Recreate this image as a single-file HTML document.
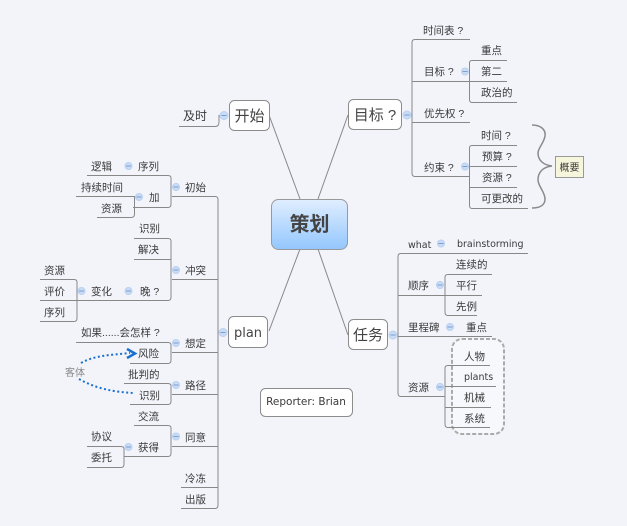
<!DOCTYPE html>
<html><head><meta charset="utf-8"><style>
html,body{margin:0;padding:0;background:#f2f4fa;width:627px;height:526px;overflow:hidden}
svg{display:block}
text{font-family:"Liberation Sans","Noto Sans CJK SC",sans-serif;font-size:10.5px;fill:#3a3a3a}
.l{font-family:"DejaVu Sans",sans-serif;font-size:9.5px}
.t{font-size:15px;fill:#444;text-anchor:middle}
.b{fill:#fff;stroke:#8c8c8c;stroke-width:1}
.p{fill:none;stroke:#888;stroke-width:1}
.c{fill:#c9dcf6;stroke:#b9d0f0;stroke-width:1}
.m{fill:none;stroke:#7f9ccc;stroke-width:1}
</style></head><body>
<svg width="627" height="526" viewBox="0 0 627 526" xmlns="http://www.w3.org/2000/svg">
<defs><linearGradient id="g" x1="0" y1="0" x2="0" y2="1"><stop offset="0" stop-color="#e0eeff"/><stop offset="1" stop-color="#93c6fd"/></linearGradient></defs>
<rect x="452" y="339" width="52" height="95" rx="10" fill="#f7f8fc" stroke="#aaa" stroke-width="2" stroke-dasharray="4 2"/>
<g class="p">
<path d="M269 115L300 199M348 115L318 199M300 249L269 331M318 249L348 335"/>
<path d="M470 39.5H415Q412 39.5 412 42.500V173Q412 176.500 415 176.500H470M412 81.500H470M412 122.500H470"/>
<path d="M507 60.500H472Q469.500 60.500 469.500 63V99Q469.500 102.500 472 102.500H517M469.500 81.500H507"/>
<path d="M517 145.500H472Q469.500 145.500 469.500 148V205Q469.500 208.500 472 208.500H528M469.500 166.500H517M469.500 187.500H517"/>
<path d="M528 253.500H401Q398 253.500 398 256.500V393Q398 396.500 401 396.500H445M398 295.500H482M398 336.500H492"/>
<path d="M492 274.500H448Q445 274.500 445 277V312Q445 315.500 448 315.500H477M445 295.500H482"/>
<path d="M490 365.500H448Q445 365.500 445 368V424Q445 427.500 448 427.500H490M445 386.500H496M445 407.500H491"/>
<path d="M179 126.500H215Q219 126.500 219 122V115"/>
<path d="M172 196.500H215Q218 196.500 218 199.500V505Q218 508.500 215 508.500H181M172 279.500H218M172 352.500H218M172 394.500H218M172 446.500H218M181 487.500H218"/>
<path d="M87 175.500H168Q171 175.500 171 178V204Q171 207.500 168 207.500H133"/>
<path d="M76 196.500H134.500V214Q134.500 217.500 131 217.500H97"/>
<path d="M134 238.500H168Q171 238.500 171 241V297Q171 300.500 168 300.500H77M134 259.500H171"/>
<path d="M40 279.500H74Q77 279.500 77 282V318Q77 321.500 74 321.500H40M40 300.500H77"/>
<path d="M76 342.500H168Q171 342.500 171 345V360Q171 363.500 168 363.500H130"/>
<path d="M124 383.500H168Q171 383.500 171 386V401Q171 404.500 168 404.500H130"/>
<path d="M134 425.500H168Q171 425.500 171 428V453Q171 456.500 168 456.500H124"/>
<path d="M87 446.500H121Q124 446.500 124 449V464Q124 467.500 121 467.500H87"/>
</g>
<rect x="271.500" y="199.500" width="76" height="50" rx="7" fill="url(#g)" stroke="#999" stroke-width="1"/>
<text x="309.500" y="231" style="font-size:20px;font-weight:bold;fill:#444;text-anchor:middle">策划</text>
<rect class="b" x="229.500" y="100.500" width="40" height="30" rx="5"/><text class="t" x="249.500" y="121">开始</text>
<rect class="b" x="348.500" y="99.500" width="53" height="30" rx="5"/><text class="t" x="375" y="120">目标 ?</text>
<rect class="b" x="348.500" y="319.500" width="39" height="30" rx="5"/><text class="t" x="368" y="340">任务</text>
<rect class="b" x="228.500" y="316.500" width="39" height="31" rx="5"/><text class="t" x="248" y="337" style="font-family:'DejaVu Sans',sans-serif;font-size:13px">plan</text>
<rect class="b" x="260.500" y="388.500" width="92" height="28" rx="5"/><text class="l" x="306" y="405" text-anchor="middle" style="font-size:10.5px">Reporter: Brian</text>
<path d="M532 125C540 125 546 129 545 136C544 143 538 148 538 153C538 160 543 165 552 166C543 167 538 172 538 180C538 186 545 192 545 199C545 205 540 208 532 208" fill="none" stroke="#8a8a8a" stroke-width="1.500"/>
<rect x="555.500" y="156.500" width="28" height="21" fill="#f6f6dc" stroke="#999"/>
<text x="569.500" y="171" text-anchor="middle" style="font-size:10px">概要</text>
<g class="c">
<circle cx="407" cy="115" r="4"/><circle cx="465" cy="71.500" r="3.500"/><circle cx="465" cy="166.500" r="3.500"/>
<circle cx="393" cy="335" r="4"/><circle cx="441" cy="243.500" r="3.500"/><circle cx="440" cy="285" r="3.500"/><circle cx="450" cy="327" r="3.500"/><circle cx="440" cy="387" r="3.500"/>
<circle cx="224" cy="115.500" r="4"/><circle cx="223" cy="332.500" r="4"/>
<circle cx="176" cy="187" r="3.500"/><circle cx="128.500" cy="166" r="3.500"/><circle cx="139" cy="197" r="3.500"/><circle cx="176" cy="270" r="3.500"/><circle cx="128.500" cy="291" r="3.500"/><circle cx="81.500" cy="291" r="3.500"/><circle cx="176" cy="343" r="3.500"/><circle cx="176" cy="385" r="3.500"/><circle cx="176" cy="436.500" r="3.500"/><circle cx="128.500" cy="447" r="3.500"/>
</g>
<path class="m" d="M404.500 115h5M462.500 71.500h5M462.500 166.500h5M390.500 335h5M438.500 243.500h5M437.500 285h5M447.500 327h5M437.500 387h5M221.500 115.500h5M220.500 332.500h5M173.500 187h5M126 166h5M136.500 197h5M173.500 270h5M126 291h5M79 291h5M173.500 343h5M173.500 385h5M173.500 436.500h5M126 447h5"/>
<text x="423" y="34">时间表 ?</text>
<text x="424" y="75">目标 ?</text>
<text x="481" y="54">重点</text><text x="481" y="75">第二</text><text x="481" y="96">政治的</text>
<text x="424" y="117">优先权 ?</text>
<text x="424" y="171">约束 ?</text>
<text x="481" y="139">时间 ?</text><text x="482" y="160">预算 ?</text><text x="482" y="181">资源 ?</text><text x="481" y="202">可更改的</text>
<text class="l" x="408" y="248">what</text><text class="l" x="457" y="247">brainstorming</text>
<text x="408" y="289">顺序</text>
<text x="456" y="268">连续的</text><text x="456" y="289">平行</text><text x="456" y="310">先例</text>
<text x="408" y="331">里程碑</text><text x="466" y="331">重点</text>
<text x="408" y="391">资源</text>
<text x="464" y="360">人物</text><text class="l" x="464" y="380">plants</text><text x="464" y="401">机械</text><text x="464" y="422">系统</text>
<text x="183" y="120" style="font-size:12px">及时</text>
<text x="91" y="170">逻辑</text><text x="138" y="170">序列</text><text x="185" y="191">初始</text>
<text x="81" y="191">持续时间</text><text x="149" y="201">加</text><text x="101" y="212">资源</text>
<text x="139" y="232">识别</text><text x="138" y="253">解决</text><text x="185" y="274">冲突</text>
<text x="140" y="295">晚 ?</text><text x="91" y="295">变化</text>
<text x="44" y="274">资源</text><text x="44" y="295">评价</text><text x="44" y="316">序列</text>
<text x="81" y="336">如果......会怎样 ?</text><text x="185" y="347">想定</text><text x="138" y="357">风险</text>
<text x="128" y="378">批判的</text><text x="185" y="389">路径</text><text x="139" y="399">识别</text>
<text x="138" y="420">交流</text><text x="185" y="441">同意</text><text x="138" y="451">获得</text>
<text x="91" y="440">协议</text><text x="91" y="461">委托</text>
<text x="185" y="482">冷冻</text><text x="185" y="503">出版</text>
<text x="65" y="376" style="font-size:10px;fill:#888">客体</text>
<path d="M81 363C95 355 112 355 130 353M79 379C95 388 112 392 134 393" fill="none" stroke="#1a6fd0" stroke-width="2" stroke-dasharray="2 2.500"/>
<path d="M127 349L135 353.500L127 358" fill="none" stroke="#1a6fd0" stroke-width="2.500"/>
</svg>
</body></html>
